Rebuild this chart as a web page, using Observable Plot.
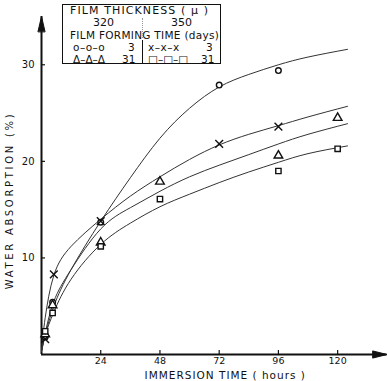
<!DOCTYPE html>
<html><head><meta charset="utf-8">
<script src="https://cdn.jsdelivr.net/npm/d3@7"></script>
<script src="https://cdn.jsdelivr.net/npm/@observablehq/plot@0.6"></script>
<style>
body{margin:0;background:#fff;}
#wrap{position:relative;width:388px;height:381px;font-family:"DejaVu Sans",sans-serif;color:#111;}
#legend{position:absolute;left:62px;top:4px;width:157px;height:58px;border:1.5px solid #111;font-size:10.5px;}
#legend span{position:absolute;white-space:nowrap;line-height:12px;}
#legend .div{position:absolute;left:79px;top:35px;width:0;height:23px;border-left:1.2px solid #111;}
#legend .dash{position:absolute;left:79px;top:13px;width:0;height:20px;border-left:1px dotted #999;}
</style></head><body>
<div id="wrap"><div id="chart"></div>
<div id="legend">
<span style="left:7px;top:0px;letter-spacing:1.1px;font-size:11px">FILM THICKNESS ( μ )</span>
<span style="left:30px;top:12px;font-size:11px">320</span>
<span style="left:108px;top:12px;font-size:11px">350</span>
<span style="left:7px;top:24px;letter-spacing:0.3px">FILM FORMING TIME (days)</span>
<span style="left:10px;top:36px;letter-spacing:0.5px">o–o–o</span>
<span style="left:65px;top:36px">3</span>
<span style="left:85px;top:36px;letter-spacing:0.5px">x–x–x</span>
<span style="left:143px;top:36px">3</span>
<span style="left:10px;top:48px;letter-spacing:0px">Δ–Δ–Δ</span>
<span style="left:59px;top:48px">31</span>
<span style="left:85px;top:48px;letter-spacing:0px">□–□–□</span>
<span style="left:138px;top:48px">31</span>
<div class="div"></div><div class="dash"></div>
</div></div>
<script>
// tick labels
const xTicks = [24, 48, 72, 96, 120];
const yTicks = [10, 20, 30];

// fitted curves
const curveHours = [0, 1.5, 5, 12, 24, 36, 48, 60, 72, 84, 96, 108, 124];
const curve320_3  = [0.3, 2.0, 5.0, 8.8, 13.8, 18.3, 22.4, 25.5, 27.7, 29.0, 30.0, 30.8, 31.6];
const curve350_3  = [0.5, 3.8, 8.2, 11.2, 14.0, 16.4, 18.4, 20.2, 21.7, 22.8, 23.7, 24.6, 25.7];
const curve320_31 = [0.3, 2.2, 5.5, 8.8, 13.0, 15.2, 16.9, 18.4, 19.6, 20.7, 21.8, 22.8, 23.9];
const curve350_31 = [0.3, 2.0, 4.4, 7.8, 11.4, 13.6, 15.3, 16.6, 17.8, 18.9, 19.9, 20.8, 21.6];

// measured points
const hours320_3  = [1.5, 4.5, 24, 72, 96];
const vals320_3   = [1.8, 5.4, 13.7, 27.9, 29.4];
const hours350_3  = [1.5, 5, 24, 72, 96];
const vals350_3   = [1.6, 8.3, 13.8, 21.8, 23.6];
const hours320_31 = [1.5, 4.5, 24, 48, 96, 120];
const vals320_31  = [2.1, 5.1, 11.6, 17.9, 20.6, 24.5];
const hours350_31 = [1.5, 4.5, 24, 48, 96, 120];
const vals350_31  = [2.4, 4.3, 11.2, 16.1, 19.0, 21.3];

const toRows = (xs, ys) => xs.map((x, i) => ({x, y: ys[i]}));
const curves = [curve320_3, curve350_3, curve320_31, curve350_31].map(c => toRows(curveHours, c));
const series = [
  {rows: toRows(hours320_3, vals320_3), symbol: "circle", r: 2.8},
  {rows: toRows(hours350_3, vals350_3), symbol: "times", r: 3.6},
  {rows: toRows(hours320_31, vals320_31), symbol: "triangle", r: 3.2},
  {rows: toRows(hours350_31, vals350_31), symbol: "square", r: 3.0}
];

const arrowShape = {draw(context, l, r) { context.moveTo(-r, 0); context.lineTo(0, -l); context.lineTo(r, 0); context.closePath(); }};

const chart = Plot.plot({
  width: 388, height: 381,
  marginLeft: 41, marginRight: 1.5, marginTop: 16, marginBottom: 27,
  x: {domain: [0, 140]},
  y: {domain: [0, 35]},
  style: {fontFamily: "DejaVu Sans, sans-serif", fontSize: "10px", color: "#111", background: "white"},
  marks: [
    Plot.axisX({ticks: xTicks, tickSize: -4, tickPadding: 7, label: null, strokeWidth: 1.2, fontSize: 9.5}),
    Plot.axisY({ticks: yTicks, tickSize: -4, tickPadding: 11, label: null, strokeWidth: 1.2}),
    Plot.ruleY([0], {strokeWidth: 2, stroke: "#111"}),
    Plot.ruleX([0], {strokeWidth: 2, stroke: "#111"}),
    Plot.vector([0], {frameAnchor: "top-left", anchor: "end", length: 15, r: 3.5, shape: arrowShape, fill: "#111", stroke: "#111", strokeWidth: 1}),
    Plot.vector([0], {frameAnchor: "bottom-right", anchor: "end", rotate: 90, length: 14, r: 3.5, shape: arrowShape, fill: "#111", stroke: "#111", strokeWidth: 1}),
    ...curves.map(c => Plot.line(c, {x: "x", y: "y", curve: "natural", stroke: "#333", strokeWidth: 1})),
    ...series.map(s => Plot.dot(s.rows, {x: "x", y: "y", symbol: s.symbol, r: s.r, stroke: "#111", strokeWidth: 1.4, fill: "white"})),
    Plot.text(["IMMERSION TIME ( hours )"], {frameAnchor: "bottom", textAnchor: "middle", lineAnchor: "middle", dx: 11, dy: 21, fontSize: 10.5, fill: "#111"}),
    Plot.text(["WATER ABSORPTION (%)"], {frameAnchor: "left", textAnchor: "middle", lineAnchor: "middle", rotate: -90, dx: -32, dy: 15, fontSize: 10, fill: "#111"})
  ]
});
d3.select(chart).selectAll("text").each(function() {
  const t = this.textContent;
  if (t === "WATER ABSORPTION (%)") this.setAttribute("letter-spacing", "2.7");
  if (t === "IMMERSION TIME ( hours )") this.setAttribute("letter-spacing", "1");
});
document.getElementById("chart").appendChild(chart);
</script>
</body></html>
